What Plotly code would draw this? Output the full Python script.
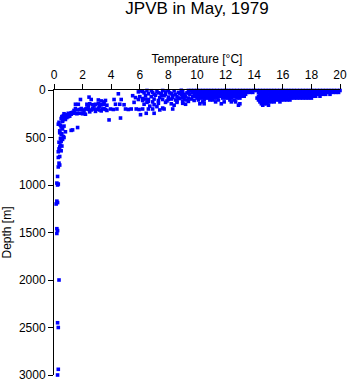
import plotly.graph_objects as go

# ---- data: deep profile (temperature degC, depth m) ----
deep_points = [
    (0.25, 3000), (0.3, 2940), (0.3, 2500), (0.25, 2450), (0.35, 2000),
    (0.2, 1510), (0.25, 1480), (0.2, 1460), (0.15, 1200), (0.2, 1170), (0.25, 1185),
    (0.25, 1000), (0.2, 980), (0.3, 990), (0.25, 910), (0.3, 810), (0.4, 790),
    (0.35, 770), (0.4, 700), (0.3, 710), (0.3, 650), (0.5, 640), (0.35, 620),
    (0.4, 600), (0.55, 590), (0.45, 580), (0.35, 550), (0.5, 540), (0.6, 520),
    (0.45, 510), (0.7, 500), (0.65, 490), (0.5, 470), (0.55, 460), (0.4, 450),
    (0.8, 440), (0.4, 430), (0.6, 410), (0.5, 390), (0.7, 380), (0.45, 370),
    (0.3, 360), (0.35, 340), (0.6, 330), (1.2, 425), (1.3, 420), (1.65, 395),
    (0.6, 320), (0.8, 310), (0.5, 300), (0.7, 300), (0.9, 290), (0.55, 280),
    (0.65, 270), (1.0, 280), (0.8, 265), (1.1, 275), (0.9, 260), (0.7, 250), (1.2, 255),
]

# ---- thermocline, 1-6 degC ----
mid_points = [
    (1.0, 245), (1.2, 240), (1.4, 245), (1.6, 250), (1.8, 245), (2.0, 250), (2.2, 255), (1.3, 235),
    (1.4, 215), (1.6, 210), (1.8, 205), (2.0, 210), (2.2, 200), (2.4, 205), (2.6, 210),
    (2.8, 200), (3.0, 205), (3.2, 210), (3.4, 200), (3.6, 205), (1.5, 195), (1.9, 195),
    (2.3, 190), (2.7, 195), (3.1, 190), (3.5, 195), (2.1, 225), (2.5, 230), (2.9, 225),
    (3.3, 220), (3.7, 215), (3.95, 200), (4.15, 205), (4.4, 200), (5.0, 200), (5.2, 205),
    (5.4, 200), (5.75, 200), (5.95, 205), (2.3, 150), (2.5, 145), (2.7, 155),
    (2.9, 150), (3.1, 145), (3.3, 155), (3.5, 150), (3.7, 160), (2.4, 170), (2.8, 165),
    (3.2, 170), (1.5, 150), (1.7, 150), (1.85, 100), (2.45, 75), (2.6, 100), (3.1, 105),
    (3.3, 115), (3.5, 125), (3.6, 110), (4.2, 100), (4.5, 40), (4.7, 100), (5.5, 60),
    (5.7, 80), (5.9, 100), (6.0, 70), (4.3, 150), (4.6, 150), (4.9, 155), (5.6, 130),
    (3.85, 315), (4.65, 295), (6.05, 260), (5.9, 20), (6.0, 10),
]

# ---- upper ocean, 6-10 degC ----
upper_points = [
    (6.2, 200), (6.6, 200), (6.9, 200), (6.45, 245), (7.0, 245), (7.4, 210), (7.7, 200),
    (8.3, 200), (6.7, 170), (7.6, 190), (7.2, 175), (6.2, 110), (6.4, 95), (6.6, 120),
    (6.2, 15), (6.5, 5), (6.3, 30), (6.6, 40), (6.9, 25), (7.2, 15), (7.5, 35), (7.8, 20),
    (8.1, 30), (8.4, 10), (8.7, 25), (9.0, 15), (9.3, 30), (9.6, 10), (6.4, 60), (6.8, 70),
    (7.1, 55), (7.4, 80), (7.7, 60), (8.0, 75), (8.3, 55), (8.6, 70), (8.9, 50), (9.2, 65),
    (9.5, 45), (6.2, 90), (6.6, 100), (7.0, 95), (7.3, 110), (7.6, 100), (7.9, 115),
    (8.2, 95), (8.5, 105), (8.8, 90), (9.1, 100), (9.4, 85), (9.7, 70), (6.5, 130),
    (6.9, 125), (7.3, 140), (7.8, 130), (8.2, 145), (8.6, 130), (9.0, 140), (9.4, 120),
    (9.8, 110), (7.0, 155), (8.4, 160), (9.2, 150), (6.3, 150), (6.8, 8), (7.6, 5),
    (8.0, 8), (8.9, 3), (9.4, 5),
    (8.2, 40), (8.5, 45), (8.8, 35), (9.1, 45), (9.4, 30), (9.7, 25), (8.3, 80),
    (8.7, 85), (9.0, 80), (9.3, 105), (9.6, 95), (8.0, 100), (9.0, 120), (8.6, 115),
    (7.3, 30), (7.0, 45), (7.8, 45), (7.5, 60),
]

# ---- mixed layer, warm water: depth rows with temperatures ----
row_depths = [5, 25, 45, 65, 85, 105, 125, 145, 160]
row_temps = [
    [9.6, 9.8, 10.0, 10.2, 10.4, 10.6, 10.8, 11.0, 11.2, 11.4, 11.6, 11.8, 12.0, 12.2,
     12.4, 12.6, 12.8, 13.0, 13.2, 13.4, 13.6, 13.8, 14.0, 14.2, 14.4, 14.6, 14.8, 15.0,
     15.2, 15.4, 15.6, 15.8, 16.0, 16.2, 16.4, 16.6, 16.8, 17.0, 17.2, 17.4, 17.6, 17.8,
     18.0, 18.2, 18.4, 18.6, 18.8, 19.0, 19.2, 19.4, 19.6, 19.8, 20.0],
    [9.7, 9.9, 10.1, 10.3, 10.5, 10.7, 10.9, 11.1, 11.3, 11.5, 11.7, 11.9, 12.1, 12.3,
     12.5, 12.7, 12.9, 13.1, 13.3, 13.5, 13.7, 13.9, 14.3, 14.5, 14.7, 14.9, 15.1,
     15.3, 15.5, 15.7, 15.9, 16.1, 16.3, 16.5, 16.7, 16.9, 17.1, 17.3, 17.5, 17.7, 17.9,
     18.1, 18.3, 18.5, 18.7, 18.9, 19.1, 19.3, 19.5, 19.7, 19.9],
    [9.8, 10.0, 10.2, 10.4, 10.6, 10.8, 11.0, 11.2, 11.4, 11.6, 11.8, 12.0, 12.2, 12.4,
     12.6, 12.8, 13.0, 13.2, 13.4, 14.4, 14.6, 14.8, 15.0, 15.2, 15.4, 15.6, 15.8, 16.0,
     16.2, 16.4, 16.6, 16.8, 17.0, 17.2, 17.4, 17.6, 17.8, 18.0, 18.2, 18.4, 18.6, 18.8,
     19.0, 19.3],
    [9.9, 10.1, 10.3, 10.5, 10.7, 10.9, 11.1, 11.3, 11.5, 11.7, 11.9, 12.1, 12.3, 12.5,
     12.7, 12.9, 13.1, 13.3, 14.3, 14.5, 14.7, 14.9, 15.1, 15.3, 15.5, 15.7, 15.9, 16.1,
     16.3, 16.5, 16.7, 16.9, 17.1, 17.3, 17.5, 17.7, 17.9, 18.1, 18.3, 18.6],
    [10.0, 10.2, 10.4, 10.6, 10.8, 11.0, 11.2, 11.4, 11.8, 12.0, 12.2, 12.4, 12.8, 13.0,
     14.2, 14.4, 14.6, 14.8, 15.0, 15.2, 15.4, 15.6, 15.8, 16.0, 16.2, 16.4, 16.6, 16.8,
     17.0, 17.2, 17.4, 17.6, 17.8, 18.0],
    [10.1, 10.5, 10.9, 11.1, 11.5, 12.3, 12.6, 14.3, 14.5, 14.7, 14.9, 15.1, 15.3, 15.5,
     15.7, 15.9, 16.1, 16.3, 16.5],
    [10.4, 11.3, 11.9, 12.4, 12.7, 14.4, 14.6, 14.8, 15.0, 15.2, 15.4, 15.8],
    [10.2, 10.5, 11.7, 13.0, 14.5, 14.7, 14.9],
    [12.9, 14.6, 15.0],
]

x_ticks = [0, 2, 4, 6, 8, 10, 12, 14, 16, 18, 20]
y_ticks = [0, 500, 1000, 1500, 2000, 2500, 3000]

temps, depths = [], []
for group in (deep_points, mid_points, upper_points):
    for t, d in group:
        temps.append(t)
        depths.append(d)
for d, row in zip(row_depths, row_temps):
    for t in row:
        temps.append(t)
        depths.append(d)

fig = go.Figure(go.Scatter(
    x=temps, y=depths, mode="markers",
    marker=dict(symbol="square", size=3.6, color="#0000ff", line=dict(width=0)),
    hoverinfo="skip", cliponaxis=False,
))

font_family = "Liberation Sans, Arial, sans-serif"
fig.update_layout(
    width=348, height=384,
    margin=dict(l=54, r=8, t=90, b=9),
    paper_bgcolor="white", plot_bgcolor="white",
    font=dict(family=font_family, size=12, color="black"),
    showlegend=False,
    title=dict(text="JPVB in May, 1979", x=197 / 348, xanchor="center",
               y=1 - 8 / 384, yanchor="middle", yref="container",
               font=dict(size=17, color="black")),
)
fig.update_xaxes(
    side="top", range=[0, 20], tickvals=x_ticks, ticks="outside", ticklen=5,
    tickwidth=1, tickcolor="black", showline=True, linecolor="black", linewidth=1,
    showgrid=False, zeroline=False, tickfont=dict(size=12), automargin=False,
    title=dict(text="Temperature [°C]", font=dict(size=12), standoff=2),
)
fig.update_yaxes(
    range=[3000, 0], tickvals=y_ticks, ticks="outside", ticklen=5,
    tickwidth=1, tickcolor="black", showline=True, linecolor="black", linewidth=1,
    showgrid=False, zeroline=False, tickfont=dict(size=12), automargin=False,
    title=dict(text="Depth [m]", font=dict(size=12), standoff=6),
)

fig.write_html("out.html")
